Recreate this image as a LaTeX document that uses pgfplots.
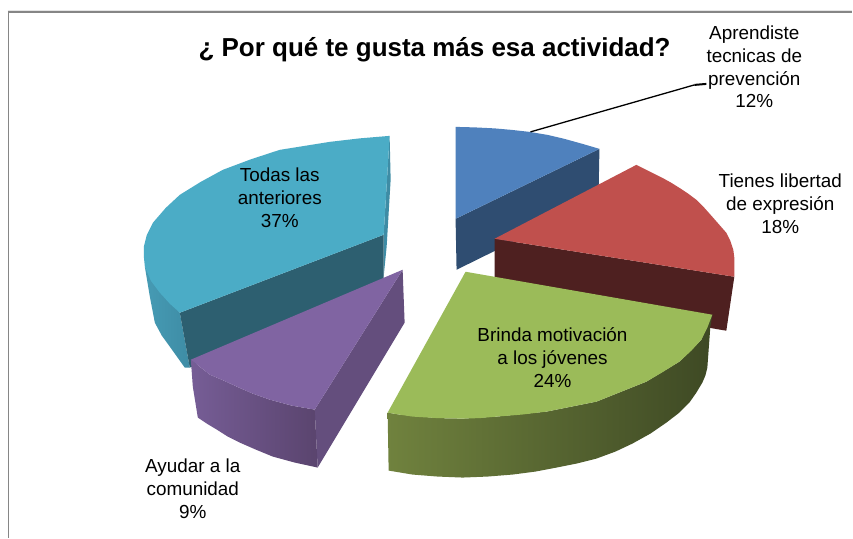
\documentclass[border=0pt]{standalone}
\usepackage{pgfplots}
\pgfplotsset{compat=1.18}
\usepackage{fontspec}
\setmainfont{Liberation Sans}
\definecolor{blueT}{RGB}{79,129,189}
\definecolor{blueW}{RGB}{47,77,113}
\definecolor{redT}{RGB}{192,80,77}
\definecolor{redW}{RGB}{78,32,32}
\definecolor{greenT}{RGB}{155,187,89}
\definecolor{greenA}{RGB}{112,130,62}
\definecolor{greenB}{RGB}{62,73,36}
\definecolor{purT}{RGB}{128,100,162}
\definecolor{purW}{RGB}{100,78,125}
\definecolor{purA}{RGB}{118,93,150}
\definecolor{purB}{RGB}{90,68,110}
\definecolor{cyanT}{RGB}{75,172,198}
\definecolor{cyanD}{RGB}{45,95,112}
\definecolor{cyanA}{RGB}{70,155,180}
\definecolor{cyanB}{RGB}{62,140,165}
\begin{document}
\begin{tikzpicture}
\begin{axis}[
  scale only axis, width=853pt, height=538pt,
  xmin=0, xmax=853, ymin=0, ymax=538, y dir=reverse,
  hide axis, clip=false]
% canvas and frame
\addplot[draw=none, fill=white] coordinates {(0,0)(853,0)(853,538)(0,538)} -- cycle;
\addplot[draw=gray!20, line width=1pt] coordinates {(8,10.5)(853,10.5)};
\addplot[draw=gray!95, line width=1.6pt] coordinates {(8,12)(853,12)};
\addplot[draw=gray!95, line width=1.2pt] coordinates {(8.5,12)(8.5,538)};
% blue slice
\addplot[draw=none, fill=blueW] coordinates {(456,219)(600,149)(599,200)(457,270)} -- cycle;
\addplot[draw=none, fill=blueT] coordinates {(456,127)(475,127.5)(495,128.5)(512,130)(530,132)(548,135)(565,139)(583,144)(600,149)(456,219)} -- cycle;
% red slice
\addplot[draw=none, fill=redW] coordinates {(495,239)(735,277)(727,331)(495,292)} -- cycle;
\addplot[draw=none, fill=redT] coordinates {(495,239)(637,165)(649,171)(663,178)(672,183)(680,188)(689,194)(697,200)(705,208)(713,217)(720,225)(727,233)(731,241)(734,250)(735,258)(735,267)(735,277)} -- cycle;
% cyan slice
\addplot[draw=none, left color=cyanA, right color=cyanB] coordinates {(145,267)(150,297)(155,323)(162,336)(170,347)(185,368)(190,368)(180,313)} -- cycle;
\addplot[draw=none, fill=cyanB] coordinates {(390,136)(391,180)(387,247)(384,277)(384,235)} -- cycle;
\addplot[draw=none, fill=cyanD] coordinates {(180,313)(384,235)(384,280)(190,368)} -- cycle;
\addplot[draw=none, fill=cyanT] coordinates {(390,136)(360,138.5)(330,142)(305,146)(280,150)(251,159.5)(223,170)(201,182)(180,195)(166,208)(153,223)(147,235)(144,247)(144,257)(145,267)(151,281)(160,293)(170,304)(180,313)(384,235)} -- cycle;
% purple slice
\addplot[draw=none, fill=purW] coordinates {(403,270)(315,410)(318,468)(405,323)} -- cycle;
\addplot[draw=none, left color=purA, right color=purB] coordinates {(191,360)(210,375)(224,381)(237,387)(253,394)(270,400)(292,406)(315,410)(318,468)(295,463)(273,457)(256,450)(240,443)(228,437)(217,430)(207,424)(198,418)(193,387)} -- cycle;
\addplot[draw=none, fill=purT] coordinates {(403,270)(191,360)(210,375)(224,381)(237,387)(253,394)(270,400)(292,406)(315,410)} -- cycle;
% green slice
\addplot[draw=none, left color=greenA, middle color=greenB, right color=greenB] coordinates {(388,413)(400,415)(438,418.5)(463,419)(497,417)(547,412)(597,402)(647,382)(680,362)(702,340)(713,315)(711,327)(708,368)(706,376)(703,383)(697,393)(690,403)(680,413)(667,423)(651,434)(633,444)(616,452)(597,459)(577,464)(557,468)(536,472)(513,475)(488,477)(463,478)(438,477)(413,475)(389,471)} -- cycle;
\addplot[draw=none, fill=greenT] coordinates {(466,272)(713,315)(708,328)(702,340)(692,351)(680,362)(664,372)(647,382)(622,392)(597,402)(572,407)(547,412)(522,415)(497,417)(480,418.5)(463,419)(438,418.5)(413,417)(400,415)(388,413)} -- cycle;
% leader
\addplot[black, line width=1.3pt] coordinates {(531,132)(695,85)};
\addplot[black, line width=2pt] coordinates {(695,85)(707,84)};
% texts
\node[font=\bfseries\fontsize{26pt}{30pt}\selectfont, anchor=center] at (axis cs:435,50) {¿ Por qué te gusta más esa actividad?};
\node[font=\fontsize{18.9pt}{22.8pt}\selectfont, align=center] at (axis cs:755,67) {Aprendiste\\tecnicas de\\prevención\\12\%};
\node[font=\fontsize{18.9pt}{22.8pt}\selectfont, align=center] at (axis cs:781,204) {Tienes libertad\\de expresión\\18\%};
\node[font=\fontsize{18.9pt}{22.8pt}\selectfont, align=center] at (axis cs:553,358) {Brinda motivación\\a los jóvenes\\24\%};
\node[font=\fontsize{18.9pt}{22.8pt}\selectfont, align=center] at (axis cs:193,489) {Ayudar a la\\comunidad\\9\%};
\node[font=\fontsize{18.9pt}{22.8pt}\selectfont, align=center] at (axis cs:280,198) {Todas las\\anteriores\\37\%};
\end{axis}
\end{tikzpicture}
\end{document}
